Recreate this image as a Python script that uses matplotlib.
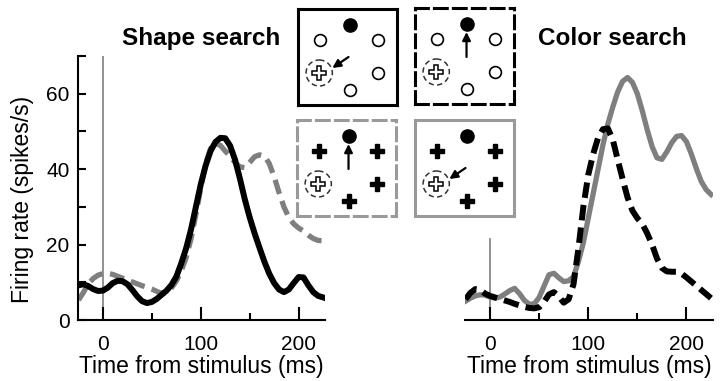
import matplotlib.pyplot as plt
from matplotlib.patches import Circle
from matplotlib.ticker import FixedLocator

plt.rcParams['font.family'] = ['Liberation Sans', 'DejaVu Sans']

# time axis (ms from stimulus onset)
t = [-25, -20, -15, -10, -5, 0, 5, 10, 15, 20, 25, 30, 35, 40, 45, 50, 55, 60,
     65, 70, 75, 80, 85, 90, 95, 100, 105, 110, 115, 120, 125, 130, 135, 140,
     145, 150, 155, 160, 165, 170, 175, 180, 185, 190, 195, 200, 205, 210, 215,
     220, 225]

# shape search: target in RF (solid black) vs distractor in RF (dashed gray)
shape_target = [9.2, 9.5, 9.0, 8.2, 7.7, 7.8, 8.6, 9.8, 10.4, 10.3, 9.5, 8.0,
                6.3, 5.0, 4.5, 4.8, 5.6, 6.7, 7.8, 9.3, 11.5, 15.0, 19.0, 24.0,
                30.0, 36.0, 41.0, 44.8, 47.2, 48.3, 48.2, 46.2, 42.5, 37.5, 32.0,
                27.2, 23.0, 19.2, 15.5, 12.3, 9.8, 8.1, 7.4, 8.1, 9.8, 11.4,
                11.3, 9.2, 7.4, 6.4, 6.0]
shape_distr = [5.3, 7.3, 9.6, 11.0, 11.9, 12.3, 12.4, 12.1, 11.6, 11.1, 10.6,
               10.1, 9.6, 9.1, 8.7, 8.2, 7.6, 7.1, 7.3, 8.5, 10.3, 13.0, 16.5,
               21.5, 28.0, 35.0, 41.5, 45.5, 46.8, 46.3, 44.8, 43.4, 41.8, 40.6,
               40.4, 41.8, 43.3, 43.8, 43.5, 41.5, 38.0, 33.8, 30.0, 27.2, 25.5,
               24.4, 23.6, 22.5, 21.6, 21.1, 21.0]

# color search: distractor in RF (dashed black) vs target in RF (solid gray)
color_distr = [5.5, 7.2, 8.2, 8.0, 7.0, 6.4, 6.0, 5.6, 5.2, 4.8, 4.3, 3.9, 3.5,
               3.2, 3.1, 3.4, 4.8, 6.8, 7.4, 6.3, 4.6, 5.5, 9.5, 19.0, 30.0,
               38.5, 44.0, 48.3, 50.6, 50.8, 47.8, 42.5, 37.4, 32.5, 29.0, 27.0,
               25.5, 23.0, 20.0, 16.3, 13.8, 12.9, 12.8, 12.8, 12.3, 11.3, 10.2,
               9.1, 8.0, 6.9, 5.8]
color_target = [5.0, 5.8, 6.4, 6.7, 6.6, 6.1, 5.8, 6.1, 6.9, 7.8, 8.4, 7.0,
                5.2, 4.2, 4.3, 6.0, 9.0, 12.0, 12.4, 11.2, 10.2, 10.4, 11.5,
                15.5, 20.5, 27.0, 33.5, 40.0, 46.5, 52.0, 56.5, 60.5, 63.3, 64.3,
                63.0, 60.0, 55.5, 50.5, 46.0, 43.0, 42.6, 44.6, 47.0, 48.7, 48.9,
                47.3, 44.0, 40.2, 36.8, 34.6, 33.3]

x_major = [0, 100, 200]
x_minor = [50, 150]
y_ticks = [0, 10, 20, 30, 40, 50, 60, 70]
y_labels = ['0', '', '20', '', '40', '', '60', '']

GRAY = '#7f7f7f'
BOX_GRAY = '#9a9a9a'

fig = plt.figure(figsize=(7.25, 3.81), dpi=100)

ax1 = fig.add_axes([0.1076, 0.160, 0.3407, 0.693])
ax2 = fig.add_axes([0.6414, 0.160, 0.342, 0.693])

for ax in (ax1, ax2):
    ax.set_xlim(-25.5, 227)
    ax.set_ylim(0, 70)
    ax.spines['top'].set_visible(False)
    ax.spines['right'].set_visible(False)
    ax.spines['bottom'].set_linewidth(1.5)
    ax.spines['left'].set_linewidth(1.5)
    ax.xaxis.set_major_locator(FixedLocator(x_major))
    ax.xaxis.set_minor_locator(FixedLocator(x_minor))
    ax.tick_params(axis='x', which='major', direction='in', length=9.5,
                   width=1.5, labelsize=15, pad=10.5)
    ax.tick_params(axis='x', which='minor', direction='in', length=5,
                   width=1.5)
    ax.set_xlabel('Time from stimulus (ms)', fontsize=16.5, labelpad=1)

# left panel
ax1.set_yticks(y_ticks)
ax1.set_yticklabels(y_labels)
ax1.tick_params(axis='y', direction='in', length=6, width=1.5,
                labelsize=15, pad=6)
ax1.set_ylabel('Firing rate (spikes/s)', fontsize=16.5)
ax1.yaxis.set_label_coords(-0.18, 0.455)
ax1.axvline(0, color=GRAY, lw=1.2, zorder=1)
ax1.plot(t, shape_distr, color=GRAY, lw=3.8, dashes=(2.8, 1.4), zorder=2)
ax1.plot(t, shape_target, color='black', lw=4.3, zorder=3)

# right panel
ax2.spines['left'].set_visible(False)
ax2.set_yticks([])
ax2.plot([0, 0], [0, 21.5], color=GRAY, lw=1.2, zorder=1)
ax2.plot(t, color_target, color=GRAY, lw=3.8, zorder=2)
ax2.plot(t, color_distr, color='black', lw=4.3, dashes=(2.6, 1.2), zorder=3)

fig.text(0.277, 0.900, 'Shape search', fontsize=17.5, fontweight='bold',
         ha='center', va='center')
fig.text(0.845, 0.900, 'Color search', fontsize=17.5, fontweight='bold',
         ha='center', va='center')

# search array icons, coordinates in pixels inside each 98x96 box
slots = {'top': (51, 16), 'ul': (22, 31), 'ur': (79, 31),
         'target': (21, 64), 'lr': (79, 64), 'bottom': (51, 81)}
arrow_up = ((51, 49), (51, 24))
arrow_diag = ((50, 48), (34, 59))


def search_box(rect, edge, ls, distractor, arrow):
    ax = fig.add_axes(rect)
    ax.set_xlim(0, 98)
    ax.set_ylim(96, 0)
    ax.set_xticks([])
    ax.set_yticks([])
    for sp in ax.spines.values():
        sp.set_color(edge)
        sp.set_linewidth(2.2)
        if ls == 'dashed':
            sp.set_linestyle((0, (4.2, 2.0)))
    ax.plot(*slots['top'], 'o', color='black', ms=9.5)
    for key in ('ul', 'ur', 'lr', 'bottom'):
        x, y = slots[key]
        if distractor == 'circle':
            ax.plot(x, y, 'o', mfc='white', mec='black', mew=1.2, ms=8.5)
        else:
            ax.plot(x, y, 'P', color='black', ms=10.5)
    tx, ty = slots['target']
    ax.add_patch(Circle((tx, ty), 13, fill=False, ec='#333333', lw=1.1,
                        ls=(0, (3.5, 2.2))))
    ax.plot(tx, ty, 'P', mfc='white', mec='black', mew=1.1, ms=10)
    start, end = arrow
    ax.annotate('', xy=end, xytext=start,
                arrowprops=dict(arrowstyle='-|>', lw=1.6, color='black',
                                mutation_scale=12, shrinkA=0, shrinkB=0))


w, h = 99 / 725, 96 / 381
search_box([298 / 725, 1 - 105 / 381, w, h], 'black', 'solid', 'circle',
           arrow_diag)
search_box([415 / 725, 1 - 104 / 381, w, h], 'black', 'dashed', 'circle',
           arrow_up)
search_box([297 / 725, 1 - 216 / 381, w, h], BOX_GRAY, 'dashed', 'cross',
           arrow_up)
search_box([415 / 725, 1 - 216 / 381, w, h], BOX_GRAY, 'solid', 'cross',
           arrow_diag)

fig.savefig('out.png', dpi=100)
